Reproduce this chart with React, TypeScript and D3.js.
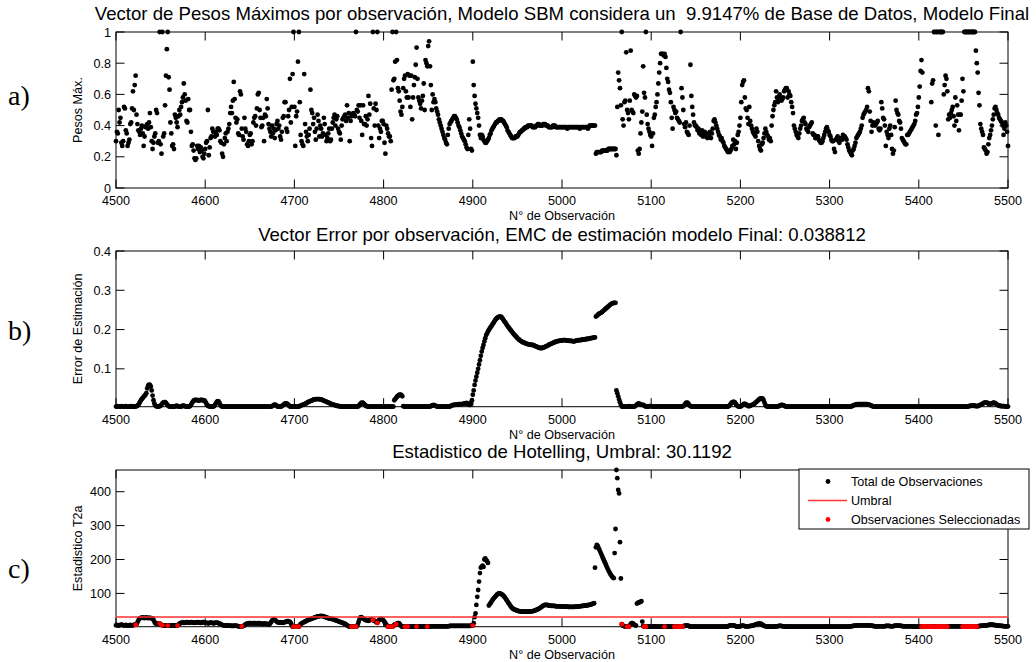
import React from "react";
import * as d3 from "d3";

// Observations 4500..5500, one value per observation.
const FIRST_OBS = 4500;
const LAST_OBS = 5500;

// a) maximum weight per observation (null = not reported)
const pesosMaximos: (number | null)[] = [
  .30,.36,.35,.50,.42,.45,.29,.27,.30,.52,
  .51,.37,.35,.27,.29,.31,.41,.42,.51,.62,
  .50,.66,.72,.47,.41,.37,.36,.34,.38,.40,
  .35,.27,.33,.39,.40,.41,.38,.42,.48,.39,
  .30,.25,.29,.33,.35,.50,.48,.29,.30,1,
  .28,.22,1,.33,.35,.53,.72,.89,1,.71,
  .63,.42,.35,.27,.28,.25,.47,.45,.42,.39,
  .46,.50,.47,.52,.55,.58,.67,.60,.56,.43,
  .42,.57,.50,.50,.36,.27,.28,.24,.19,.18,
  .19,.27,.25,.27,.23,.26,.24,.20,.19,.22,
  .25,.29,.30,.50,.21,.26,.32,.33,.38,.36,
  .36,.33,.36,.34,.38,.38,.37,.30,.29,.22,
  .20,.28,.32,.35,.30,.36,.38,.41,.48,.52,
  .48,.56,.68,.57,.45,.42,.44,.35,.34,.62,
  .60,.38,.33,.31,.45,.38,.36,.28,.27,.30,
  .34,.35,.28,.30,.42,.45,.46,.40,.51,.60,
  .61,.50,.45,.39,.40,.45,.30,.47,.46,.57,
  .51,.41,.38,.36,.33,.40,.35,.38,.32,.37,
  .41,.43,.38,.40,.33,.31,.36,.45,.46,.55,
  .55,.38,.36,.46,.50,.70,.42,.52,.73,1,
  .52,.27,.46,.49,.81,1,.55,.34,.30,.28,
  .27,.73,.41,.36,.33,.30,.34,.38,.63,.50,
  .48,.41,.45,.36,.31,.38,.47,.43,.33,.40,
  .38,.33,.35,.45,.41,.34,.30,.32,.35,.38,
  .30,.31,.38,.42,.45,.47,.40,.44,.46,.38,
  .36,.35,.31,.40,.44,.45,.46,.47,.43,.53,
  .45,.48,.30,.43,.46,.47,.48,.47,.46,1,
  .50,.49,.53,.45,.53,.43,.34,.53,.41,.41,
  .46,.40,.44,.59,.47,.54,.32,.27,1,.51,
  .40,.54,.50,1,.40,.32,.38,.36,.43,.43,
  .41,.29,.22,.40,.38,.35,.33,.33,.30,.63,
  1,.69,.70,.81,1,.82,.64,.62,.56,.49,
  .47,.52,.64,.70,.72,.62,.58,.73,.58,.72,
  .52,.72,.44,.58,.66,.71,.79,.90,.70,.58,
  .56,.54,.51,.56,.59,.67,.50,.82,.80,.78,
  .91,.94,.78,.66,.50,.60,.55,.57,.55,.51,
  .49,.47,.44,.42,.40,.38,.36,.34,.32,.31,
  .29,.28,.34,.38,.41,.42,.43,.44,.45,.46,
  .46,.45,.44,.42,.40,.39,.37,.35,.33,.32,
  .31,.30,.28,.26,.25,.34,.44,.38,.25,.24,
  .81,.66,.59,.54,.51,.48,.45,.40,.34,.32,
  .34,.33,.31,.30,.29,.29,.30,.31,.32,.34,
  .35,.37,.38,.39,.40,.41,.42,.42,.43,.43,
  .44,.44,.44,.43,.43,.42,.41,.40,.39,.37,
  .36,.35,.34,.33,.32,.32,.32,.32,.33,.33,
  .33,.34,.35,.36,.36,.37,.37,.38,.38,.39,
  .39,.39,.40,.40,.40,.40,.40,.39,.39,.39,
  .39,.40,.40,.41,.41,.40,.40,.40,.40,.41,
  .41,.41,.40,.40,.40,.39,.39,.39,.39,.39,
  .40,.40,.40,.39,.39,.39,.39,.39,.39,.39,
  .39,.39,.39,.39,.39,.39,.38,.39,.39,.39,
  .39,.39,.39,.39,.39,.39,.39,.39,.39,.39,
  .38,.39,.39,.39,.39,.39,.39,.39,.39,.38,
  .39,.40,.40,.40,.40,.40,.40,.40,.22,.23,
  .23,.23,.23,.23,.23,.24,.24,.24,.24,.24,
  .24,.24,.25,.25,.25,.25,.25,.25,.25,.25,
  .25,.21,.52,.74,.69,.64,.53,1,.44,.40,
  .55,.56,.87,.50,.48,.44,.56,.88,.50,.49,
  .48,.60,.59,.58,.59,.24,.22,.25,.35,.42,
  .49,.78,.61,.58,1,.47,.41,.38,.36,.34,
  .33,.27,.35,.45,.47,.52,.55,.60,.67,.74,
  .80,.86,.86,.86,.85,.86,.84,.77,.70,.68,
  .63,.61,.55,.45,.38,.52,.50,.48,.49,.45,
  .44,.43,.42,1,.64,.58,.50,.41,.39,.42,
  .36,.35,.34,.40,.79,.59,.52,.47,.42,.40,
  .40,.39,.37,.38,.35,.36,.34,.37,.33,.34,
  .36,.33,.35,.32,.34,.33,.36,.32,.35,.38,
  .43,.44,.42,.40,.38,.36,.34,.33,.31,.32,
  .30,.29,.27,.26,.25,.24,.23,.24,.23,.24,
  .25,.27,.31,.28,.30,.25,.29,.34,.36,.40,
  .45,.55,.66,.68,.69,.58,.51,.50,.45,.41,
  .52,.43,.40,.38,.36,.35,.34,.33,.38,.36,
  .30,.27,.25,.24,.28,.29,.32,.35,.38,.36,
  .34,.33,.31,.32,.30,.40,.46,.50,.53,.55,
  .62,.58,.55,.57,.60,.58,.56,.57,.58,.62,
  .63,.64,.64,.58,.62,.60,.59,.55,.52,.48,
  .40,.38,.36,.34,.33,.32,.35,.38,.40,.43,
  .44,.45,.42,.41,.38,.37,.36,.39,.40,.41,
  .42,.35,.34,.34,.32,.32,.33,.33,.31,.30,
  .29,.29,.30,.32,.34,.36,.38,.39,.37,.36,
  .34,.33,.31,.30,.30,.25,.23,.31,.32,.33,
  .30,.29,.31,.32,.31,.34,.33,.33,.32,.31,
  .28,.26,.24,.23,.22,.21,.24,.25,.27,.29,
  .32,.33,.34,.35,.36,.38,.40,.45,.47,.48,
  .49,.50,.52,.64,.62,.49,.43,.36,.40,.42,
  .41,.40,.41,.42,.43,.38,.37,.38,.55,.51,
  .45,.44,.40,.27,.36,.34,.32,.38,.40,.34,
  .25,.22,.24,.39,.56,.50,.48,.47,.43,.42,
  .38,.32,.31,.30,.29,.28,.28,.34,.34,.35,
  .36,.37,.38,.39,.40,.41,.43,.47,.48,.52,
  .58,.65,.75,.82,.74,null,null,null,null,null,
  null,null,null,null,.55,.67,.69,1,1,.40,
  1,1,.34,1,1,1,1,1,.60,.66,
  .72,.70,.62,.44,.47,.45,.48,.50,.52,.46,
  .40,.58,.43,.53,.47,.37,.47,.47,.56,.70,
  .62,1,1,1,1,1,1,1,1,1,
  1,1,1,1,.88,.80,.74,.61,.53,.41,
  .38,.36,.34,.26,.25,.24,.22,.23,.28,.32,
  .34,.37,.40,.44,.47,.51,.52,.50,.48,.47,
  .45,.44,.43,.42,.40,.34,.38,.42,.40,.36,
  .27,
];

// b) estimation error per observation
const errorEstimacion: number[] = [
  .004,.004,.005,.004,.004,.004,.005,.004,.004,.004,
  .004,.005,.004,.004,.004,.004,.004,.005,.004,.004,
  .004,.004,.004,.005,.006,.008,.012,.016,.020,.023,
  .026,.029,.031,.034,.038,.050,.057,.060,.059,.055,
  .045,.032,.020,.012,.007,.005,.004,.004,.004,.005,
  .006,.009,.012,.014,.015,.015,.013,.010,.007,.005,
  .004,.004,.004,.004,.004,.004,.004,.005,.006,.005,
  .004,.004,.004,.004,.005,.006,.006,.005,.004,.004,
  .004,.004,.004,.005,.008,.012,.016,.019,.020,.021,
  .021,.020,.020,.019,.020,.021,.021,.020,.020,.019,
  .017,.013,.009,.006,.005,.004,.004,.004,.004,.004,
  .005,.008,.012,.016,.018,.017,.013,.008,.005,.004,
  .004,.004,.004,.004,.004,.004,.004,.004,.004,.004,
  .004,.004,.004,.004,.004,.004,.004,.004,.004,.004,
  .004,.004,.004,.004,.004,.004,.004,.004,.004,.004,
  .004,.004,.004,.004,.004,.004,.004,.004,.004,.004,
  .004,.004,.004,.004,.004,.004,.004,.004,.004,.004,
  .004,.004,.004,.004,.004,.005,.006,.008,.009,.008,
  .006,.004,.004,.004,.004,.004,.005,.007,.009,.011,
  .012,.012,.011,.009,.006,.004,.004,.004,.004,.004,
  .004,.004,.004,.004,.004,.004,.005,.006,.007,.008,
  .009,.010,.011,.012,.013,.015,.016,.017,.018,.019,
  .020,.021,.022,.022,.023,.023,.023,.023,.023,.022,
  .022,.021,.020,.019,.018,.017,.016,.015,.014,.013,
  .012,.011,.010,.009,.008,.008,.007,.006,.006,.005,
  .005,.005,.004,.004,.004,.004,.004,.004,.004,.004,
  .004,.004,.004,.004,.004,.004,.004,.004,.004,.004,
  .004,.004,.005,.008,.011,.013,.014,.013,.011,.008,
  .006,.005,.004,.004,.004,.004,.004,.004,.004,.004,
  .004,.004,.004,.004,.004,.004,.004,.004,.004,.004,
  .004,.004,.004,.004,.004,.004,.004,.004,.004,.004,
  .004,.004,.020,.023,.026,.029,.031,.033,.034,.034,
  .033,.030,.005,.004,.004,.004,.004,.004,.004,.004,
  .004,.004,.004,.004,.004,.004,.004,.004,.004,.004,
  .004,.004,.004,.004,.004,.004,.004,.004,.004,.004,
  .004,.004,.004,.005,.006,.007,.008,.007,.006,.005,
  .004,.004,.004,.004,.004,.004,.004,.004,.004,.004,
  .004,.004,.004,.004,.004,.005,.006,.007,.008,.008,
  .008,.009,.009,.009,.010,.010,.010,.010,.010,.011,
  .011,.012,.012,.013,.012,.010,.008,.008,.013,.020,
  .034,.045,.059,.070,.080,.090,.100,.111,.122,.133,
  .144,.153,.161,.170,.178,.186,.190,.195,.199,.203,
  .206,.209,.213,.216,.220,.224,.227,.229,.231,.232,
  .233,.233,.232,.229,.226,.222,.219,.216,.212,.209,
  .206,.203,.200,.197,.194,.191,.188,.186,.183,.181,
  .178,.176,.174,.172,.171,.169,.168,.167,.166,.165,
  .164,.163,.163,.162,.162,.161,.161,.161,.160,.159,
  .158,.157,.156,.155,.154,.153,.153,.153,.153,.154,
  .155,.156,.157,.158,.159,.161,.162,.163,.164,.165,
  .166,.167,.168,.169,.170,.170,.171,.171,.172,.172,
  .172,.173,.173,.173,.173,.172,.172,.172,.171,.171,
  .171,.171,.170,.170,.170,.171,.172,.172,.173,.173,
  .173,.173,.174,.174,.175,.175,.175,.176,.176,.176,
  .177,.177,.178,.178,.179,.179,.180,.180,.233,.235,
  .237,.239,.241,.242,.243,.245,.247,.249,.251,.253,
  .255,.257,.259,.261,.263,.265,.266,.267,.268,.268,
  .268,.045,.038,.030,.022,.015,.008,.004,.004,.004,
  .004,.004,.004,.004,.004,.005,.004,.004,.004,.004,
  .004,.004,.005,.007,.009,.011,.012,.011,.009,.008,
  .008,.008,.007,.005,.004,.004,.004,.004,.005,.005,
  .005,.004,.004,.004,.004,.004,.004,.004,.004,.004,
  .004,.004,.004,.004,.004,.004,.004,.004,.004,.004,
  .004,.004,.004,.004,.004,.004,.004,.004,.004,.004,
  .004,.004,.004,.004,.004,.004,.005,.007,.010,.013,
  .014,.013,.010,.007,.005,.004,.004,.004,.004,.004,
  .004,.004,.004,.004,.004,.004,.004,.004,.004,.004,
  .004,.004,.004,.004,.004,.004,.004,.004,.004,.004,
  .004,.004,.004,.004,.004,.004,.004,.004,.004,.004,
  .004,.004,.004,.004,.004,.004,.004,.005,.007,.010,
  .013,.015,.016,.016,.014,.010,.007,.005,.004,.004,
  .004,.005,.007,.009,.011,.011,.010,.008,.006,.005,
  .005,.006,.007,.008,.009,.010,.012,.014,.016,.018,
  .020,.022,.024,.025,.025,.024,.020,.014,.008,.005,
  .004,.004,.004,.004,.004,.004,.004,.004,.004,.004,
  .004,.004,.004,.005,.006,.007,.008,.008,.007,.006,
  .005,.004,.004,.004,.004,.004,.004,.004,.004,.004,
  .004,.004,.004,.004,.004,.004,.004,.004,.004,.004,
  .004,.004,.004,.004,.004,.004,.004,.004,.004,.004,
  .004,.004,.004,.004,.004,.004,.004,.004,.004,.004,
  .004,.004,.004,.004,.004,.004,.004,.004,.004,.004,
  .004,.004,.004,.004,.004,.004,.004,.004,.004,.004,
  .004,.004,.004,.004,.004,.004,.004,.004,.004,.004,
  .004,.004,.004,.004,.004,.005,.006,.007,.008,.009,
  .009,.010,.010,.010,.010,.010,.010,.010,.010,.010,
  .010,.010,.010,.009,.009,.008,.007,.006,.005,.004,
  .004,.004,.004,.004,.004,.004,.004,.004,.004,.004,
  .004,.004,.004,.004,.004,.004,.004,.004,.004,.004,
  .004,.004,.004,.004,.004,.004,.004,.004,.004,.004,
  .004,.004,.004,.004,.004,.004,.004,.004,.004,.004,
  .004,.004,.004,.004,.004,.004,.004,.004,.004,.004,
  .004,.004,.004,.004,.004,.004,.004,.004,.004,.004,
  .004,.004,.004,.004,.004,.004,.004,.004,.004,.004,
  .004,.004,.004,.004,.004,.004,.004,.004,.004,.004,
  .004,.004,.004,.004,.004,.004,.004,.004,.004,.004,
  .004,.004,.004,.004,.004,.004,.004,.004,.004,.004,
  .004,.004,.004,.004,.004,.004,.005,.005,.006,.006,
  .006,.006,.006,.006,.005,.005,.005,.006,.007,.008,
  .009,.010,.012,.013,.014,.014,.014,.013,.012,.010,
  .010,.011,.012,.013,.014,.013,.012,.010,.008,.007,
  .006,.006,.005,.005,.005,.005,.005,.004,.004,.004,
  .004,
];

// c) Hotelling T2a statistic per observation
const t2Hotelling: number[] = [
  6,7,6,5,6,7,8,7,6,5,
  6,7,6,5,5,6,7,6,5,6,
  7,8,7,9,14,20,25,27,28,28,
  29,28,27,28,29,28,27,28,28,27,
  27,26,22,17,12,11,11,10,10,11,
  9,7,6,5,5,5,5,5,5,5,
  5,5,5,6,6,6,5,5,5,5,
  8,10,12,13,14,14,13,13,14,15,
  15,14,14,14,15,15,14,14,13,14,
  14,15,15,14,14,13,14,15,15,14,
  14,13,13,12,12,13,14,14,13,12,
  12,13,14,14,13,12,11,10,8,7,
  6,6,5,5,6,5,5,5,5,4,
  4,4,4,5,5,4,4,3,3,3,
  3,3,3,4,6,8,10,11,11,12,
  12,12,11,11,12,12,12,11,11,12,
  12,12,11,11,10,10,11,11,11,10,
  9,8,9,12,16,20,22,23,22,20,
  17,15,14,14,15,14,14,13,14,15,
  16,17,18,18,17,16,12,6,2,2,
  2,2,2,2,2,2,6,9,11,13,
  14,16,17,18,20,21,22,23,24,25,
  26,27,28,29,30,31,32,32,33,33,
  34,33,33,32,31,30,29,28,27,26,
  26,25,25,24,23,22,21,20,19,18,
  17,16,15,14,13,12,11,10,8,6,
  4,3,2,2,2,2,2,2,2,2,
  3,8,16,24,29,30,28,26,25,22,
  21,21,20,19,20,22,23,22,22,20,
  19,17,15,13,18,22,24,25,24,22,
  20,16,12,8,4,2,2,2,2,2,
  2,4,7,9,9,11,12,12,10,6,
  3,2,2,2,2,2,2,2,2,2,
  2,2,2,2,2,2,2,2,2,2,
  2,2,2,2,2,2,2,2,2,2,
  2,2,3,3,3,3,3,3,3,3,
  3,3,3,3,3,3,3,3,3,3,
  3,3,3,3,4,4,4,4,4,4,
  4,4,4,4,4,4,4,4,4,4,
  4,4,4,4,4,4,4,4,5,5,
  5,12,30,41,66,90,110,135,160,176,
  179,182,178,200,203,198,195,190,64,68,
  72,76,80,84,87,90,93,96,98,100,
  100,99,98,96,94,91,88,84,80,76,
  72,68,64,60,57,55,53,52,51,50,
  49,48,48,47,47,46,46,46,46,46,
  46,46,46,46,46,47,47,48,48,49,
  50,51,52,53,55,56,58,60,62,64,
  65,66,66,66,65,65,64,64,63,63,
  63,63,63,62,62,62,62,62,62,62,
  61,61,61,61,61,61,61,60,60,60,
  60,60,60,60,60,61,61,61,62,62,
  62,62,63,63,63,64,64,64,65,65,
  66,66,67,68,69,70,71,176,236,243,
  240,234,228,222,216,210,204,198,192,186,
  180,174,168,163,158,154,150,147,145,219,
  290,464,440,405,395,251,144,9,5,4,
  3,3,2,2,2,2,5,9,12,12,
  10,8,6,5,70,72,73,74,75,77,
  17,4,2,2,2,2,2,2,2,2,
  2,2,3,3,3,3,2,2,2,2,
  2,2,2,2,2,2,2,2,2,2,
  2,2,2,2,2,2,2,2,2,2,
  2,2,2,2,2,2,3,4,5,5,
  5,5,4,3,2,2,2,2,2,2,
  2,2,2,2,2,2,2,2,2,2,
  2,2,2,2,2,2,2,2,2,2,
  2,2,2,2,2,2,2,2,2,2,
  2,2,2,2,2,2,3,4,5,6,
  6,6,6,5,4,3,2,2,2,3,
  3,4,5,5,4,3,3,3,3,3,
  3,4,4,5,5,6,7,8,9,10,
  10,11,11,10,9,7,5,4,3,3,
  3,2,2,2,2,2,2,2,2,3,
  3,3,3,4,4,4,4,3,3,3,
  2,2,2,2,2,2,2,2,2,2,
  2,2,2,2,2,2,2,2,2,2,
  2,2,2,2,2,2,2,2,2,2,
  2,2,2,2,2,2,2,2,2,2,
  2,2,2,2,2,2,2,2,2,2,
  2,2,2,2,2,2,2,2,2,2,
  2,2,2,2,2,2,2,2,2,2,
  2,2,2,3,3,3,4,4,5,5,
  5,5,6,6,6,6,6,6,6,6,
  6,6,6,6,6,5,5,5,4,4,
  3,3,3,3,3,3,3,3,3,3,
  3,3,3,4,4,4,4,4,3,3,
  3,3,4,4,5,5,5,5,5,4,
  4,4,3,3,3,3,3,3,3,3,
  3,3,3,3,2,2,2,2,2,2,
  2,2,2,2,2,2,2,2,2,2,
  2,2,2,2,2,2,2,2,2,2,
  2,2,2,2,2,2,2,2,2,2,
  2,2,2,3,3,3,3,3,3,3,
  3,3,3,3,3,3,3,3,3,2,
  2,2,2,2,2,2,2,2,2,2,
  2,2,2,2,2,2,3,3,4,4,
  4,5,5,5,5,6,6,6,7,7,
  8,8,8,7,7,7,6,6,5,5,
  5,4,4,4,4,3,3,3,3,3,
  3,
];

// Observations chosen for the model (drawn in red on the T2a panel)
const observacionesSeleccionadas: number[] = [
  4522, 4549, 4552, 4558, 4569, 4641, 4699, 4702, 4705, 4764, 4767, 4769,
  4788, 4793, 4805, 4808, 4810, 4814, 4824, 4827, 4837, 4849, 4900,
  5067, 5073, 5075, 5092, 5094, 5115, 5126, 5128, 5130, 5132, 5133, 5135,
  5403, 5404, 5405, 5406, 5407, 5408, 5409, 5410, 5411, 5412, 5413, 5414, 5415, 5416,
  5419, 5420, 5421, 5422, 5423, 5424, 5425, 5426, 5427, 5428, 5429, 5430, 5431, 5432,
  5449, 5450, 5451, 5452, 5453, 5454, 5455, 5456, 5457, 5458, 5459, 5460, 5461, 5462,
  5463, 5464, 5465,
];

const UMBRAL = 30.1192;
const EMC_FINAL = 0.038812;
const PORCENTAJE_BASE = 9.9147;

const xTicks = [4500, 4600, 4700, 4800, 4900, 5000, 5100, 5200, 5300, 5400, 5500];
const ticksPesos = [0, 0.2, 0.4, 0.6, 0.8, 1];
const ticksError = [0.1, 0.2, 0.3, 0.4];
const ticksT2 = [100, 200, 300, 400];

const legendItems = ["Total de Observaciones", "Umbral", "Observaciones Seleccionadas"];

const WIDTH = 1036;
const HEIGHT = 662;
const LEFT = 116;
const RIGHT = 1008;
const SANS = "'Liberation Sans', Arial, Helvetica, sans-serif";
const SERIF = "'Liberation Serif', 'Times New Roman', serif";
const DOT_R = 2.4;
const TICK_LEN = 8.5;
const TITLE_SIZE = 18.6;
const LABEL_SIZE = 12.6;

const x = d3.scaleLinear().domain([FIRST_OBS, LAST_OBS]).range([LEFT, RIGHT]);
const fmt = d3.format("~g");

type PanelProps = {
  top: number;
  bottom: number;
  domain: [number, number];
  yTicks: number[];
  values: (number | null)[];
  title: string;
  titleY: number;
  yLabel: string;
  tag: string;
  tagY: number;
  children?: (y: d3.ScaleLinear<number, number>) => React.ReactNode;
};

function Panel({ top, bottom, domain, yTicks, values, title, titleY, yLabel, tag, tagY, children }: PanelProps) {
  const y = d3.scaleLinear().domain(domain).range([bottom, top]);
  const midY = (top + bottom) / 2;
  return (
    <g>
      <text x={(LEFT + RIGHT) / 2} y={titleY} textAnchor="middle" fontSize={TITLE_SIZE} style={{ whiteSpace: "pre" }}>
        {title}
      </text>
      <text x={8} y={tagY} fontFamily={SERIF} fontSize={28}>{tag}</text>
      <text
        transform={`translate(${82},${midY}) rotate(-90)`}
        textAnchor="middle"
        fontSize={LABEL_SIZE}
      >
        {yLabel}
      </text>
      <text x={(LEFT + RIGHT) / 2} y={bottom + 32} textAnchor="middle" fontSize={LABEL_SIZE}>
        N° de Observación
      </text>

      {/* frame and inward ticks */}
      <rect x={LEFT} y={top} width={RIGHT - LEFT} height={bottom - top} fill="none" stroke="#000" strokeWidth={1} />
      {xTicks.map((t) => (
        <g key={`xt${t}`}>
          <line x1={x(t)} x2={x(t)} y1={bottom} y2={bottom - TICK_LEN} stroke="#000" />
          <line x1={x(t)} x2={x(t)} y1={top} y2={top + TICK_LEN} stroke="#000" />
          <text x={x(t)} y={bottom + 17} textAnchor="middle" fontSize={LABEL_SIZE}>{t}</text>
        </g>
      ))}
      {yTicks.map((t) => (
        <g key={`yt${t}`}>
          <line x1={LEFT} x2={LEFT + TICK_LEN} y1={y(t)} y2={y(t)} stroke="#000" />
          <line x1={RIGHT} x2={RIGHT - TICK_LEN} y1={y(t)} y2={y(t)} stroke="#000" />
          <text x={LEFT - 5} y={y(t)} dy="0.36em" textAnchor="end" fontSize={LABEL_SIZE}>{fmt(t)}</text>
        </g>
      ))}

      {/* one dot per observation */}
      <g fill="#000">
        {values.map((v, i) =>
          v == null ? null : <circle key={i} cx={x(FIRST_OBS + i)} cy={y(v)} r={DOT_R} />
        )}
      </g>
      {children ? children(y) : null}
    </g>
  );
}

export default function App() {
  return (
    <svg
      width={WIDTH}
      height={HEIGHT}
      viewBox={`0 0 ${WIDTH} ${HEIGHT}`}
      style={{ position: "absolute", left: 0, top: 0, background: "#fff" }}
      fontFamily={SANS}
    >
      <rect width={WIDTH} height={HEIGHT} fill="#fff" />
      <Panel
        top={32}
        bottom={188}
        domain={[0, 1]}
        yTicks={ticksPesos}
        values={pesosMaximos}
        title={`Vector de Pesos Máximos por observación, Modelo SBM considera un  ${PORCENTAJE_BASE}% de Base de Datos, Modelo Final`}
        titleY={20}
        yLabel="Pesos Máx."
        tag="a)"
        tagY={105}
      />
      <Panel
        top={251}
        bottom={406.7}
        domain={[0.0036, 0.4]}
        yTicks={ticksError}
        values={errorEstimacion}
        title={`Vector Error por observación, EMC de estimación modelo Final: ${EMC_FINAL}`}
        titleY={240.5}
        yLabel="Error de Estimación"
        tag="b)"
        tagY={340}
      />
      <Panel
        top={470}
        bottom={626.7}
        domain={[1.8, 464]}
        yTicks={ticksT2}
        values={t2Hotelling}
        title={`Estadistico de Hotelling, Umbral: ${UMBRAL}`}
        titleY={458}
        yLabel="Estadistico T2a"
        tag="c)"
        tagY={578}
      >
        {(y) => (
          <g>
            <line x1={LEFT} x2={RIGHT} y1={y(UMBRAL)} y2={y(UMBRAL)} stroke="#ff3030" strokeWidth={1.5} />
            <g fill="#ff0000">
              {observacionesSeleccionadas.map((o) => (
                <circle key={o} cx={x(o)} cy={y(t2Hotelling[o - FIRST_OBS])} r={DOT_R} />
              ))}
            </g>
            {/* legend */}
            <g>
              <rect x={799} y={469} width={230} height={60} fill="#fff" stroke="#000" strokeWidth={1} />
              <circle cx={828} cy={481.5} r={DOT_R} fill="#000" />
              <line x1={808} x2={847} y1={500.5} y2={500.5} stroke="#ff3030" strokeWidth={1.5} />
              <circle cx={828} cy={519.5} r={DOT_R} fill="#ff0000" />
              {legendItems.map((s, i) => (
                <text key={s} x={851} y={481.5 + i * 19} dy="0.36em" fontSize={LABEL_SIZE}>{s}</text>
              ))}
            </g>
          </g>
        )}
      </Panel>
    </svg>
  );
}
